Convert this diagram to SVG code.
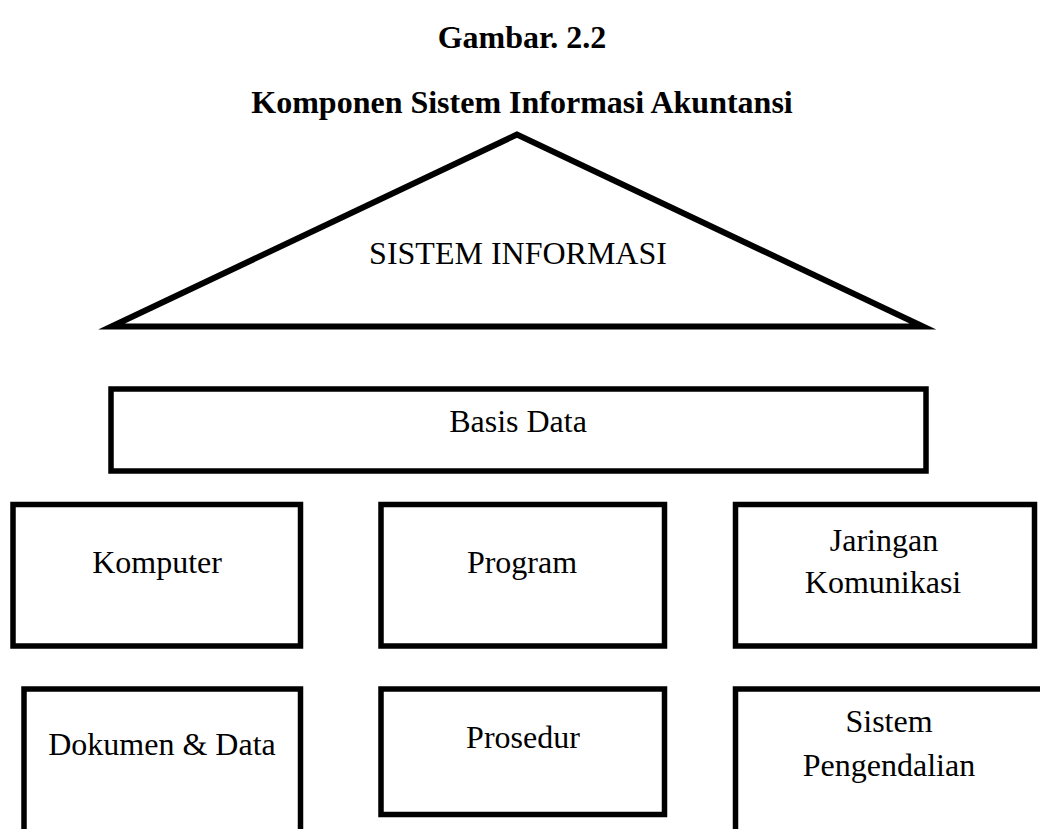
<svg xmlns="http://www.w3.org/2000/svg" width="1040" height="829" viewBox="0 0 1040 829">
<style>
.box{fill:#fff;stroke:#000;stroke-width:5.5}
.t{font-family:"Liberation Serif","Times New Roman",serif;font-size:32px;fill:#000;text-anchor:middle}
.b{font-weight:bold}
</style>
<rect width="1040" height="829" fill="#fff"/>
<g id="title">
<text class="t b" x="522" y="48">Gambar. 2.2</text>
<text class="t b" x="522" y="113">Komponen Sistem Informasi Akuntansi</text>
</g>
<g id="sistem-informasi">
<polygon points="517,134.5 111.5,326.5 923,326.5" fill="#fff" stroke="#000" stroke-width="6" stroke-linejoin="miter" stroke-miterlimit="10"/>
<text class="t" x="518" y="264">SISTEM INFORMASI</text>
</g>
<g id="basis-data">
<rect class="box" x="111" y="389" width="815" height="82"/>
<text class="t" x="518" y="432">Basis Data</text>
</g>
<g id="komputer">
<rect class="box" x="13" y="504.5" width="287.5" height="141.5"/>
<text class="t" x="157" y="573">Komputer</text>
</g>
<g id="program">
<rect class="box" x="381" y="504.5" width="283.5" height="141.5"/>
<text class="t" x="522" y="573">Program</text>
</g>
<g id="jaringan-komunikasi">
<rect class="box" x="735.5" y="504.5" width="299" height="141.5"/>
<text class="t" x="884" y="551">Jaringan</text>
<text class="t" x="883" y="593">Komunikasi</text>
</g>
<g id="dokumen-data">
<rect class="box" x="24" y="689" width="276.5" height="160"/>
<text class="t" x="162" y="755">Dokumen &amp; Data</text>
</g>
<g id="prosedur">
<rect class="box" x="381" y="689" width="283.5" height="125.5"/>
<text class="t" x="523" y="748">Prosedur</text>
</g>
<g id="sistem-pengendalian">
<rect class="box" x="735.5" y="689" width="320" height="160"/>
<text class="t" x="889" y="732">Sistem</text>
<text class="t" x="889" y="776">Pengendalian</text>
</g>
<g id="connectors"></g>
</svg>
